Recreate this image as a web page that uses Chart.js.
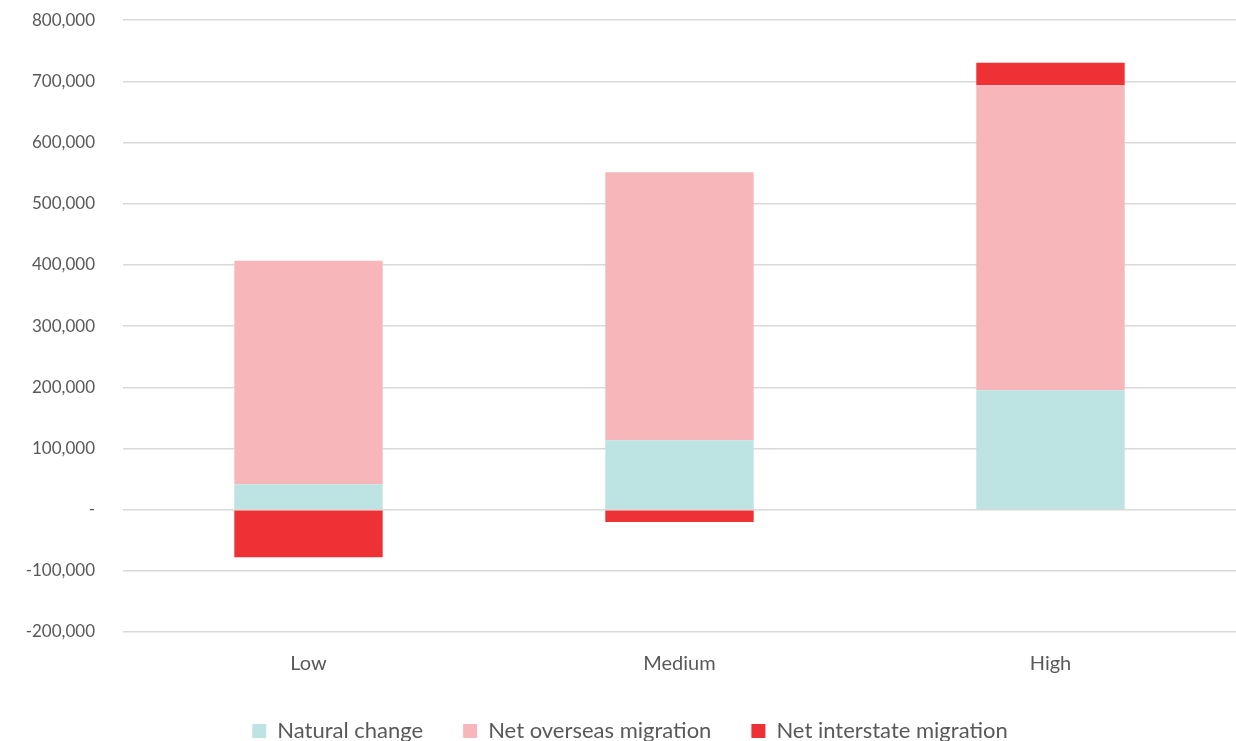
<!DOCTYPE html>
<html>
<head>
<meta charset="utf-8">
<script src="https://cdn.jsdelivr.net/npm/chart.js@4/dist/chart.umd.min.js"></script>
<style>
  html, body { margin: 0; padding: 0; background: #ffffff; overflow: hidden; }
  #wrap { width: 1236px; height: 770px; margin-top: -18px; position: relative; }
</style>
</head>
<body>
<div id="wrap"><canvas id="chart"></canvas></div>
<script>
// Population growth components by projection scenario
const scenarios = ['Low', 'Medium', 'High'];
const naturalChange = [41400, 113400, 195300];
const netOverseasMigration = [365600, 438100, 498200];
const netInterstateMigration = [-78000, -20100, 36900];

const axisMin = -200000;
const axisMax = 800000;
const axisStep = 100000;

const textColor = '#595959';
const fontFamily = 'Lato, "Open Sans", sans-serif';

new Chart(document.getElementById('chart'), {
  type: 'bar',
  data: {
    labels: scenarios,
    datasets: [
      { label: 'Natural change', data: naturalChange, backgroundColor: '#BDE3E3' },
      { label: 'Net overseas migration', data: netOverseasMigration, backgroundColor: '#F7B6BA' },
      { label: 'Net interstate migration', data: netInterstateMigration, backgroundColor: '#EE3135' }
    ]
  },
  options: {
    responsive: true,
    maintainAspectRatio: false,
    animation: false,
    layout: { padding: { top: 0, right: 0, left: 24, bottom: 0 } },
    datasets: { bar: { barPercentage: 0.4, categoryPercentage: 1.0, borderWidth: 0 } },
    plugins: {
      tooltip: { enabled: false },
      legend: {
        position: 'bottom',
        labels: {
          color: textColor,
          font: { family: fontFamily, size: 22 },
          boxWidth: 14,
          boxHeight: 14,
          padding: 40
        }
      }
    },
    scales: {
      x: {
        stacked: true,
        grid: { display: false, drawTicks: false },
        border: { display: false },
        ticks: { color: textColor, font: { family: fontFamily, size: 20 }, padding: 20 },
        afterFit: (axis) => { axis.height = 48; }
      },
      y: {
        stacked: true,
        min: axisMin,
        max: axisMax,
        grid: { color: '#d9d9d9', lineWidth: 1.5, drawTicks: false },
        border: { display: false },
        ticks: {
          stepSize: axisStep,
          color: textColor,
          font: { family: fontFamily, size: 17 },
          padding: 28,
          callback: (v) => v === 0 ? '-' : v.toLocaleString('en-US')
        },
        afterFit: (axis) => { axis.width = 99; }
      }
    }
  }
});
</script>
</body>
</html>
